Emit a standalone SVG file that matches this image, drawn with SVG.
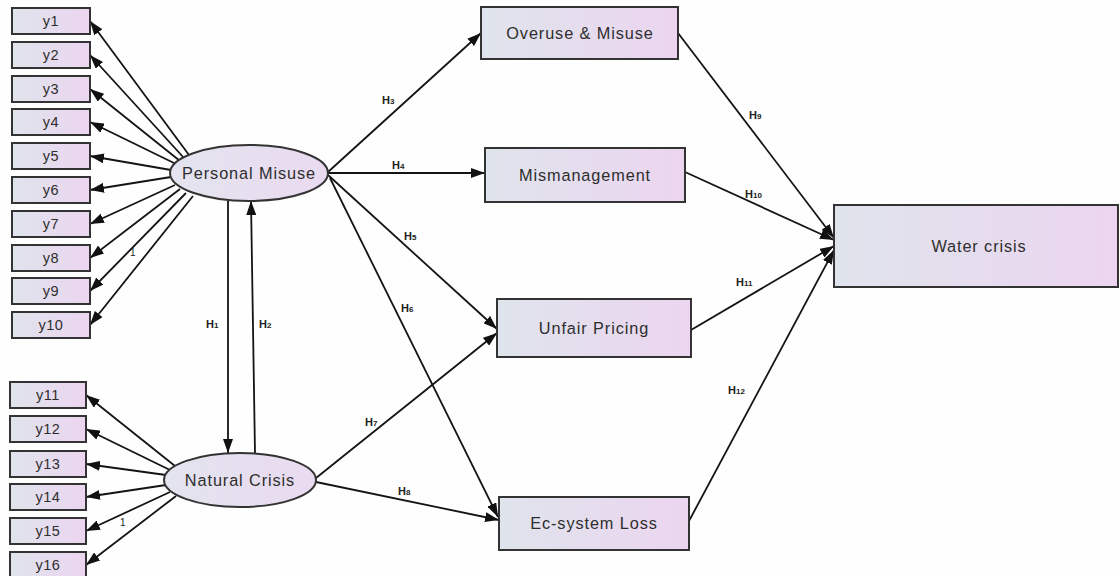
<svg xmlns="http://www.w3.org/2000/svg" width="1120" height="576" viewBox="0 0 1120 576">
<defs>
<linearGradient id="gbox" x1="0" y1="0" x2="1" y2="0">
<stop offset="0" stop-color="#dfe4ec"/>
<stop offset="1" stop-color="#ecd5f0"/>
</linearGradient>
<linearGradient id="gell" x1="0" y1="0" x2="1" y2="0">
<stop offset="0" stop-color="#e3e4ef"/>
<stop offset="1" stop-color="#eadaf0"/>
</linearGradient>
<marker id="ah" markerUnits="userSpaceOnUse" markerWidth="15" markerHeight="10" refX="14" refY="5" orient="auto">
<path d="M0,0 L14,5 L0,10 z" fill="#111"/>
</marker>
<style>
.box{fill:url(#gbox);stroke:#333;stroke-width:2}
.ell{fill:url(#gell);stroke:#333;stroke-width:2}
.t{font-family:"Liberation Sans",Arial,sans-serif;font-size:16.3px;fill:#2e2e2e;text-anchor:middle;letter-spacing:0.9px}
.ty{font-family:"Liberation Sans",Arial,sans-serif;font-size:14.5px;fill:#2e2e2e;text-anchor:middle;letter-spacing:0.5px}
.h{font-family:"Liberation Sans",Arial,sans-serif;font-size:11px;font-weight:bold;fill:#222}
.s{font-size:8px}
.one{font-family:"Liberation Sans",Arial,sans-serif;font-size:10px;fill:#222}
.c{stroke:#141414;stroke-width:1.8;fill:none;marker-end:url(#ah)}
</style>
</defs>
<rect width="1120" height="576" fill="#fefefe"/>

<g id="connectors">
<line class="c" x1="189" y1="155" x2="90" y2="21"/>
<line class="c" x1="184" y1="158" x2="90" y2="55"/>
<line class="c" x1="180" y1="161" x2="90" y2="89"/>
<line class="c" x1="176" y1="164" x2="90" y2="122"/>
<line class="c" x1="171" y1="170" x2="90" y2="156"/>
<line class="c" x1="171" y1="177" x2="90" y2="190"/>
<line class="c" x1="175" y1="185" x2="90" y2="224"/>
<line class="c" x1="180" y1="189" x2="90" y2="258"/>
<line class="c" x1="186" y1="193" x2="90" y2="291"/>
<line class="c" x1="193" y1="196" x2="90" y2="325"/>

<line class="c" x1="175" y1="466" x2="86" y2="395"/>
<line class="c" x1="170" y1="470" x2="86" y2="429"/>
<line class="c" x1="166" y1="475" x2="86" y2="464"/>
<line class="c" x1="166" y1="485" x2="86" y2="497"/>
<line class="c" x1="170" y1="492" x2="86" y2="531"/>
<line class="c" x1="176" y1="496" x2="86" y2="565"/>

<line class="c" x1="228" y1="201" x2="228" y2="453"/>
<line class="c" x1="255" y1="453" x2="251" y2="201"/>

<line class="c" x1="328" y1="172" x2="481" y2="33"/>
<line class="c" x1="328" y1="173" x2="485" y2="173"/>
<line class="c" x1="328" y1="175" x2="497" y2="329"/>
<line class="c" x1="330" y1="178" x2="498" y2="517"/>
<line class="c" x1="316" y1="478" x2="497" y2="333"/>
<line class="c" x1="316" y1="482" x2="499" y2="520"/>

<line class="c" x1="678" y1="33" x2="834" y2="238"/>
<line class="c" x1="685" y1="172" x2="834" y2="240"/>
<line class="c" x1="691" y1="330" x2="834" y2="246"/>
<line class="c" x1="689" y1="521" x2="834" y2="250"/>

<text class="h" x="206" y="328">H<tspan class="s">1</tspan></text>
<text class="h" x="259" y="328">H<tspan class="s">2</tspan></text>
<text class="h" x="382" y="104">H<tspan class="s">3</tspan></text>
<text class="h" x="392" y="169">H<tspan class="s">4</tspan></text>
<text class="h" x="404" y="240">H<tspan class="s">5</tspan></text>
<text class="h" x="401" y="312">H<tspan class="s">6</tspan></text>
<text class="h" x="365" y="426">H<tspan class="s">7</tspan></text>
<text class="h" x="398" y="495">H<tspan class="s">8</tspan></text>
<text class="h" x="749" y="119">H<tspan class="s">9</tspan></text>
<text class="h" x="745" y="198">H<tspan class="s">10</tspan></text>
<text class="h" x="736" y="286">H<tspan class="s">11</tspan></text>
<text class="h" x="728" y="394">H<tspan class="s">12</tspan></text>
<text class="one" x="130" y="256">1</text>
<text class="one" x="120" y="526">1</text>
</g>

<g id="y1"><rect class="box" x="12" y="8" width="78" height="26"/><text class="ty" x="51" y="26">y1</text></g>
<g id="y2"><rect class="box" x="12" y="42" width="78" height="26"/><text class="ty" x="51" y="60">y2</text></g>
<g id="y3"><rect class="box" x="12" y="76" width="78" height="26"/><text class="ty" x="51" y="94">y3</text></g>
<g id="y4"><rect class="box" x="12" y="109" width="78" height="26"/><text class="ty" x="51" y="127">y4</text></g>
<g id="y5"><rect class="box" x="12" y="143" width="78" height="26"/><text class="ty" x="51" y="161">y5</text></g>
<g id="y6"><rect class="box" x="12" y="177" width="78" height="26"/><text class="ty" x="51" y="195">y6</text></g>
<g id="y7"><rect class="box" x="12" y="211" width="78" height="26"/><text class="ty" x="51" y="229">y7</text></g>
<g id="y8"><rect class="box" x="12" y="245" width="78" height="26"/><text class="ty" x="51" y="263">y8</text></g>
<g id="y9"><rect class="box" x="12" y="278" width="78" height="26"/><text class="ty" x="51" y="296">y9</text></g>
<g id="y10"><rect class="box" x="12" y="312" width="78" height="26"/><text class="ty" x="51" y="330">y10</text></g>

<g id="y11"><rect class="box" x="10" y="382" width="76" height="26"/><text class="ty" x="48" y="400">y11</text></g>
<g id="y12"><rect class="box" x="10" y="416" width="76" height="26"/><text class="ty" x="48" y="434">y12</text></g>
<g id="y13"><rect class="box" x="10" y="451" width="76" height="26"/><text class="ty" x="48" y="469">y13</text></g>
<g id="y14"><rect class="box" x="10" y="484" width="76" height="26"/><text class="ty" x="48" y="502">y14</text></g>
<g id="y15"><rect class="box" x="10" y="518" width="76" height="26"/><text class="ty" x="48" y="536">y15</text></g>
<g id="y16"><rect class="box" x="10" y="552" width="76" height="26"/><text class="ty" x="48" y="570">y16</text></g>

<g id="personal-misuse"><ellipse class="ell" cx="249" cy="173" rx="79" ry="28"/><text class="t" x="249" y="179">Personal Misuse</text></g>
<g id="natural-crisis"><ellipse class="ell" cx="240" cy="480" rx="76" ry="27"/><text class="t" x="240" y="486">Natural Crisis</text></g>

<g id="overuse"><rect class="box" x="481" y="7" width="197" height="52"/><text class="t" x="580" y="39">Overuse &amp; Misuse</text></g>
<g id="mismanagement"><rect class="box" x="485" y="148" width="200" height="54"/><text class="t" x="585" y="181">Mismanagement</text></g>
<g id="unfair-pricing"><rect class="box" x="497" y="299" width="194" height="58"/><text class="t" x="594" y="334">Unfair Pricing</text></g>
<g id="ecsystem-loss"><rect class="box" x="499" y="497" width="190" height="53"/><text class="t" x="594" y="529">Ec-system Loss</text></g>
<g id="water-crisis"><rect class="box" x="834" y="205" width="284" height="82"/><text class="t" x="979" y="252">Water crisis</text></g>
</svg>
